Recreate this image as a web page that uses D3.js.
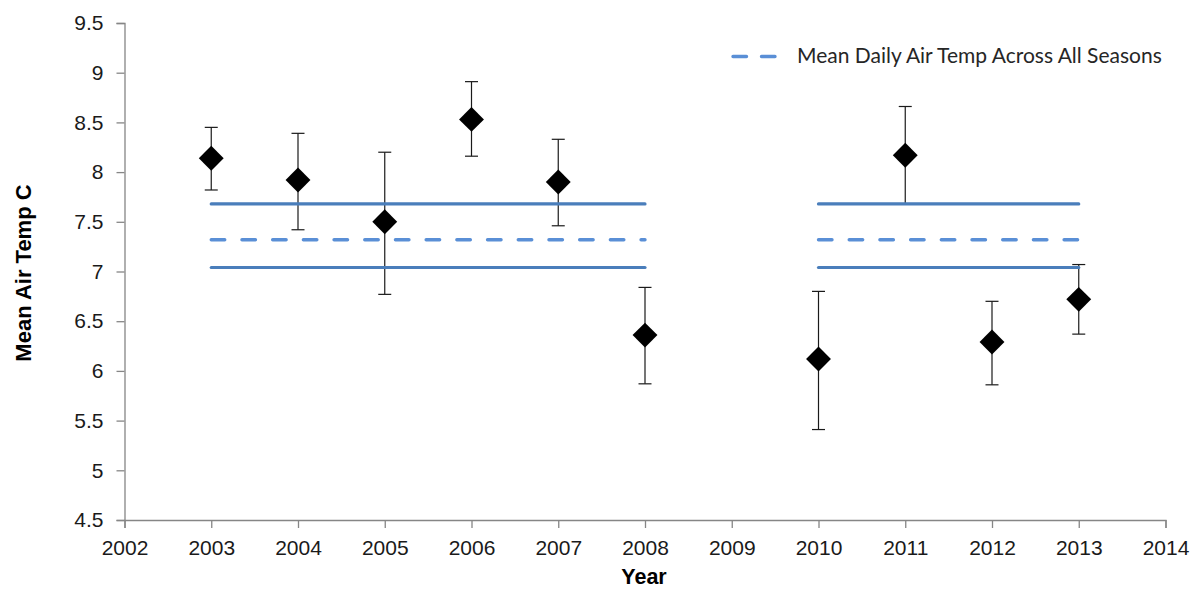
<!DOCTYPE html>
<html>
<head>
<meta charset="utf-8">
<script src="https://cdn.jsdelivr.net/npm/d3@7"></script>
<style>
  html, body { margin: 0; padding: 0; background: #fff; }
  svg { display: block; }
</style>
</head>
<body>
<svg id="chart" width="1198" height="589"></svg>
<script>
// ---- data ----
const years      = [2003, 2004, 2005, 2006, 2007, 2008, 2010, 2011, 2012, 2013];
const meanTemp   = [8.14, 7.92, 7.50, 8.53, 7.90, 6.36, 6.12, 8.17, 6.29, 6.72];
const errUpper   = [8.45, 8.39, 8.20, 8.91, 8.33, 6.84, 6.80, 8.66, 6.70, 7.07];
const errLower   = [7.82, 7.42, 6.77, 8.16, 7.46, 5.87, 5.41, 7.68, 5.86, 6.37];
const segments   = [[2003, 2008], [2010, 2013]];
const overallMean  = 7.32;
const upperBound   = 7.68;
const lowerBound   = 7.04;
const xTicks = [2002, 2003, 2004, 2005, 2006, 2007, 2008, 2009, 2010, 2011, 2012, 2013, 2014];
const yTicks = [4.5, 5, 5.5, 6, 6.5, 7, 7.5, 8, 8.5, 9, 9.5];
const legendLabel = "Mean Daily Air Temp Across All Seasons";
const xTitle = "Year";
const yTitle = "Mean Air Temp C";

// ---- layout ----
const svg = d3.select("#chart");
const x = d3.scaleLinear().domain([2002, 2014]).range([124.5, 1165.5]);
const y = d3.scaleLinear().domain([4.5, 9.5]).range([520, 23]);
const axisColor = "#868686";
const solidBlue = "#4A7EBB";
const dashBlue = "#5A8FD6";
const tickFont = "'Liberation Sans', Arial, sans-serif";

// axes
const xAxis = svg.append("g").attr("transform", `translate(0,${y(4.5)})`)
  .call(d3.axisBottom(x).tickValues(xTicks).tickFormat(d3.format("d")).tickSizeOuter(0).tickSize(8).tickPadding(12));
const yAxis = svg.append("g").attr("transform", `translate(${x(2002)},0)`)
  .call(d3.axisLeft(y).tickValues(yTicks).tickFormat(d => String(d)).tickSizeOuter(0).tickSize(8).tickPadding(13));
[xAxis, yAxis].forEach(g => {
  g.select(".domain").attr("stroke", axisColor).attr("stroke-width", 1.3);
  g.selectAll(".tick line").attr("stroke", axisColor).attr("stroke-width", 1.3);
  g.selectAll(".tick text").attr("fill", "#1a1a1a")
    .style("font-family", tickFont).style("font-size", "21px");
});

// error bars
const pts = years.map((yr, i) => ({ yr, m: meanTemp[i], hi: errUpper[i], lo: errLower[i] }));
const eb = svg.append("g").attr("stroke", "#1a1a1a").attr("stroke-width", 1.2);
pts.forEach(p => {
  eb.append("line").attr("x1", x(p.yr)).attr("x2", x(p.yr)).attr("y1", y(p.hi)).attr("y2", y(p.lo));
  eb.append("line").attr("x1", x(p.yr) - 6.5).attr("x2", x(p.yr) + 6.5).attr("y1", y(p.hi)).attr("y2", y(p.hi));
  eb.append("line").attr("x1", x(p.yr) - 6.5).attr("x2", x(p.yr) + 6.5).attr("y1", y(p.lo)).attr("y2", y(p.lo));
});

// reference lines
const lineGen = d3.line().x(d => x(d[0])).y(d => y(d[1]));
segments.forEach(([a, b]) => {
  [upperBound, lowerBound].forEach(v => {
    svg.append("path").attr("d", lineGen([[a, v], [b, v]]))
      .attr("fill", "none").attr("stroke", solidBlue).attr("stroke-width", 3.2).attr("stroke-linecap", "round");
  });
  svg.append("path").attr("d", lineGen([[a, overallMean], [b, overallMean]]))
    .attr("fill", "none").attr("stroke", dashBlue).attr("stroke-width", 3.4)
    .attr("stroke-linecap", "round").attr("stroke-dasharray", "13.5,17.2");
});

// diamonds
svg.append("g").selectAll("path").data(pts).join("path")
  .attr("d", d3.symbol(d3.symbolSquare, 310))
  .attr("transform", d => `translate(${x(d.yr)},${y(d.m)}) rotate(45)`)
  .attr("fill", "#000");

// legend
const lg = svg.append("g");
lg.append("path").attr("d", d3.line()([[733, 56.5], [776, 56.5]]))
  .attr("stroke", dashBlue).attr("stroke-width", 3.4).attr("stroke-linecap", "round")
  .attr("stroke-dasharray", "13.5,15").attr("fill", "none");
lg.append("text").attr("x", 797).attr("y", 63).text(legendLabel)
  .attr("fill", "#262626").style("font-family", "Lato, 'Open Sans', sans-serif").style("font-size", "21px");

// titles
svg.append("text").attr("x", 644).attr("y", 583.5).attr("text-anchor", "middle").text(xTitle)
  .attr("fill", "#000").style("font-family", tickFont)
  .style("font-size", "21.5px").style("font-weight", "bold");
svg.append("text").attr("transform", "translate(31,273) rotate(-90)").attr("text-anchor", "middle").text(yTitle)
  .attr("fill", "#000").style("font-family", tickFont)
  .style("font-size", "22px").style("font-weight", "bold");
</script>
</body>
</html>
